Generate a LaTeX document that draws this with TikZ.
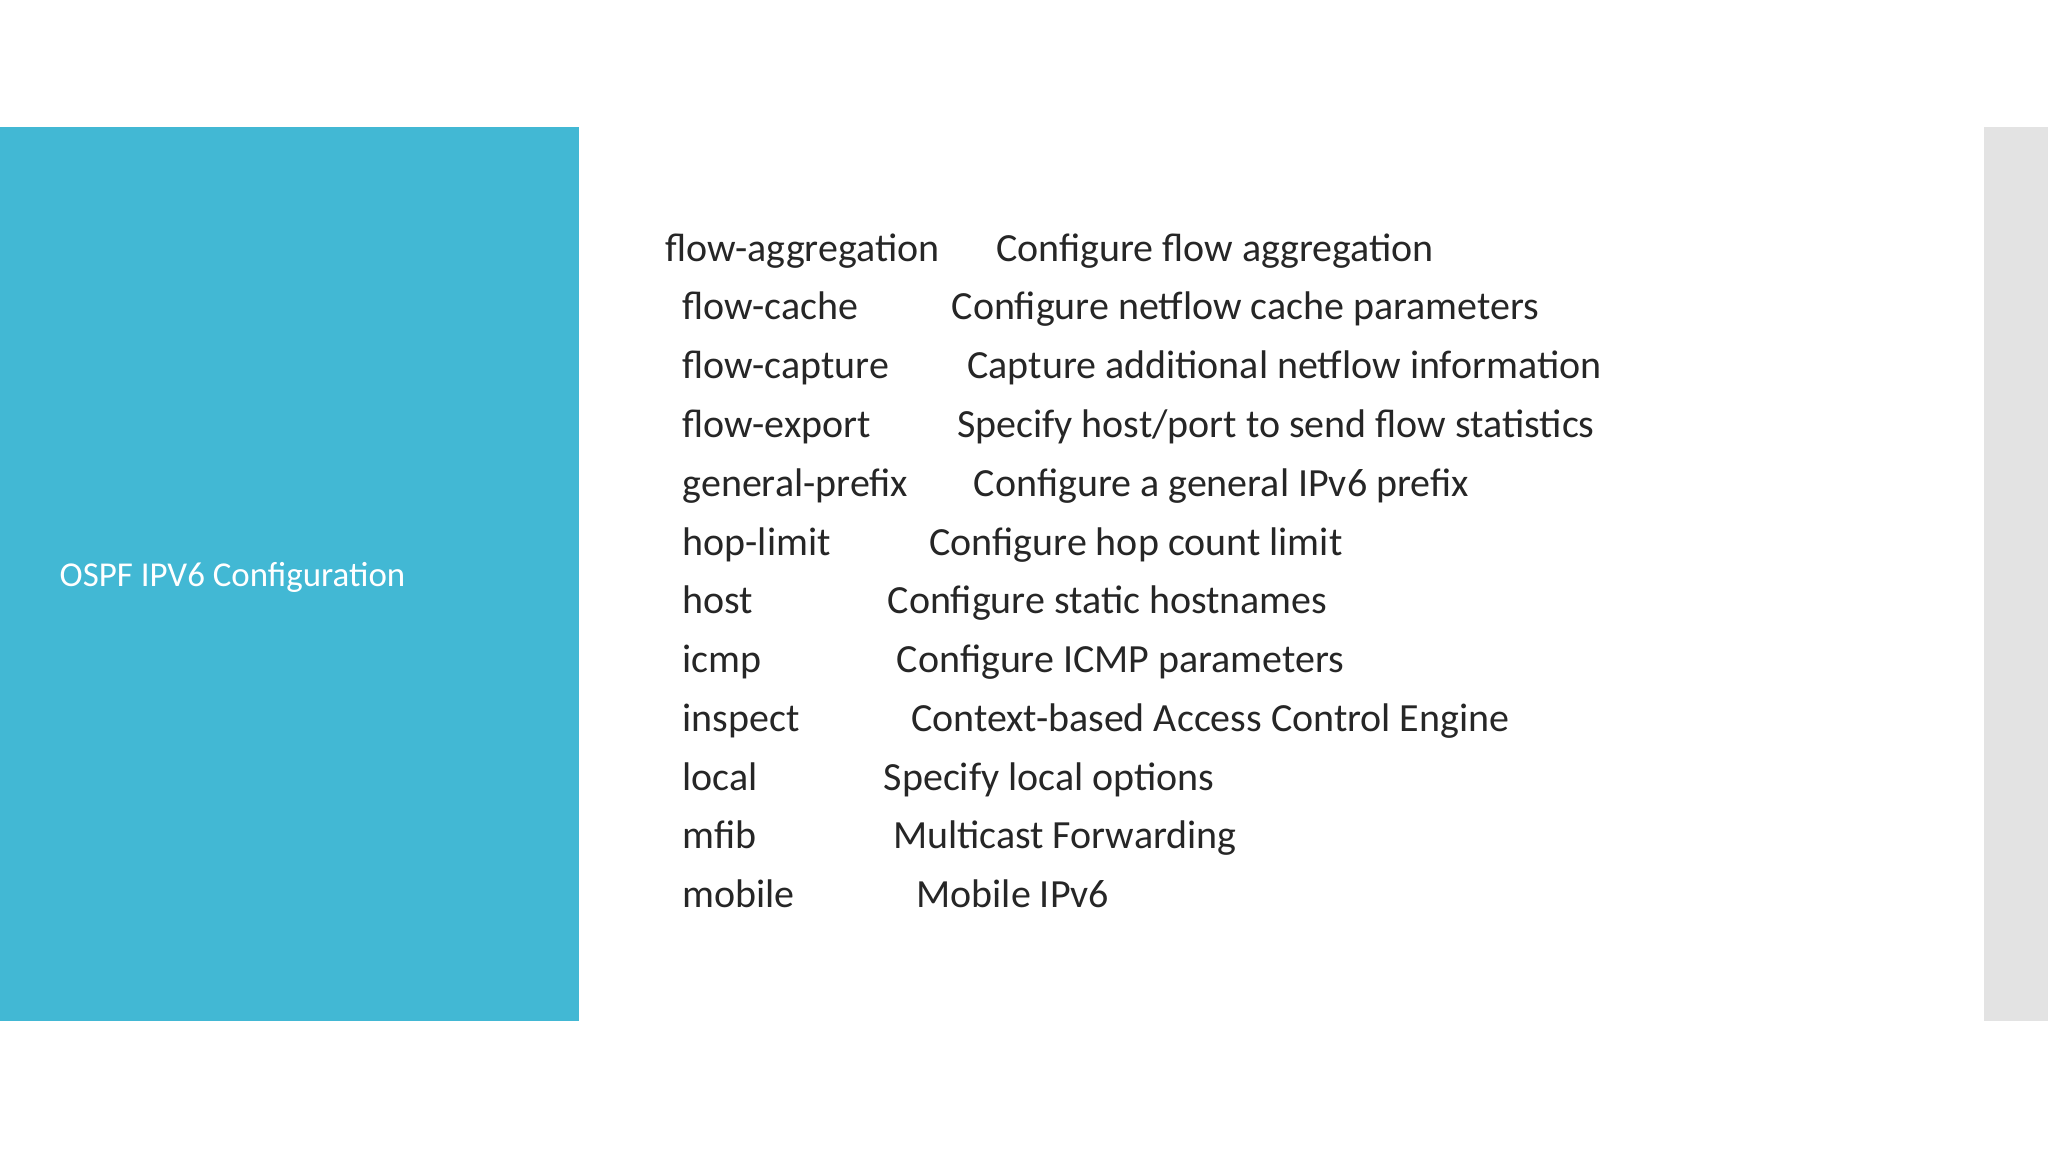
\documentclass[tikz,border=0pt]{standalone}
\usepackage{fontspec}
\setmainfont{Carlito}
\definecolor{panelblue}{HTML}{42B8D4}
\definecolor{panelgray}{HTML}{E3E3E3}
\begin{document}
\begin{tikzpicture}[x=0.01cm,y=-0.01cm,
  cmd/.style={anchor=base west,inner sep=0pt,font=\fontsize{8.7pt}{10pt}\selectfont,text=black!85}]
\useasboundingbox (0,0) rectangle (1568,882);
\fill[white] (0,0) rectangle (1568,882);
\fill[panelblue] (0,97) rectangle (443,782);
\fill[panelgray] (1519,97) rectangle (1568,782);
\node[anchor=base west,inner sep=0pt,text=white,font=\fontsize{7.6pt}{9pt}\selectfont] (title) at (45,449) {OSPF IPV6 Configuration};
\foreach \i/\a/\xa/\b/\xb in {
0/flow-aggregation/509/Configure flow aggregation/762,
1/flow-cache/522/Configure netflow cache parameters/728,
2/flow-capture/522/Capture additional netflow information/740,
3/flow-export/522/Specify host\slash port to send flow statistics/732,
4/general-prefix/522/Configure a general IPv6 prefix/745,
5/hop-limit/522/Configure hop count limit/711,
6/host/522/Configure static hostnames/679,
7/icmp/522/Configure ICMP parameters/686,
8/inspect/522/Context-based Access Control Engine/697,
9/local/522/Specify local options/676,
10/mfib/522/Multicast Forwarding/683,
11/mobile/522/Mobile IPv6/701}{
  \node[cmd] (k\i) at (\xa,{200+45*\i}) {\a};
  \node[cmd] (d\i) at (\xb,{200+45*\i}) {\b};
}
\end{tikzpicture}
\end{document}
